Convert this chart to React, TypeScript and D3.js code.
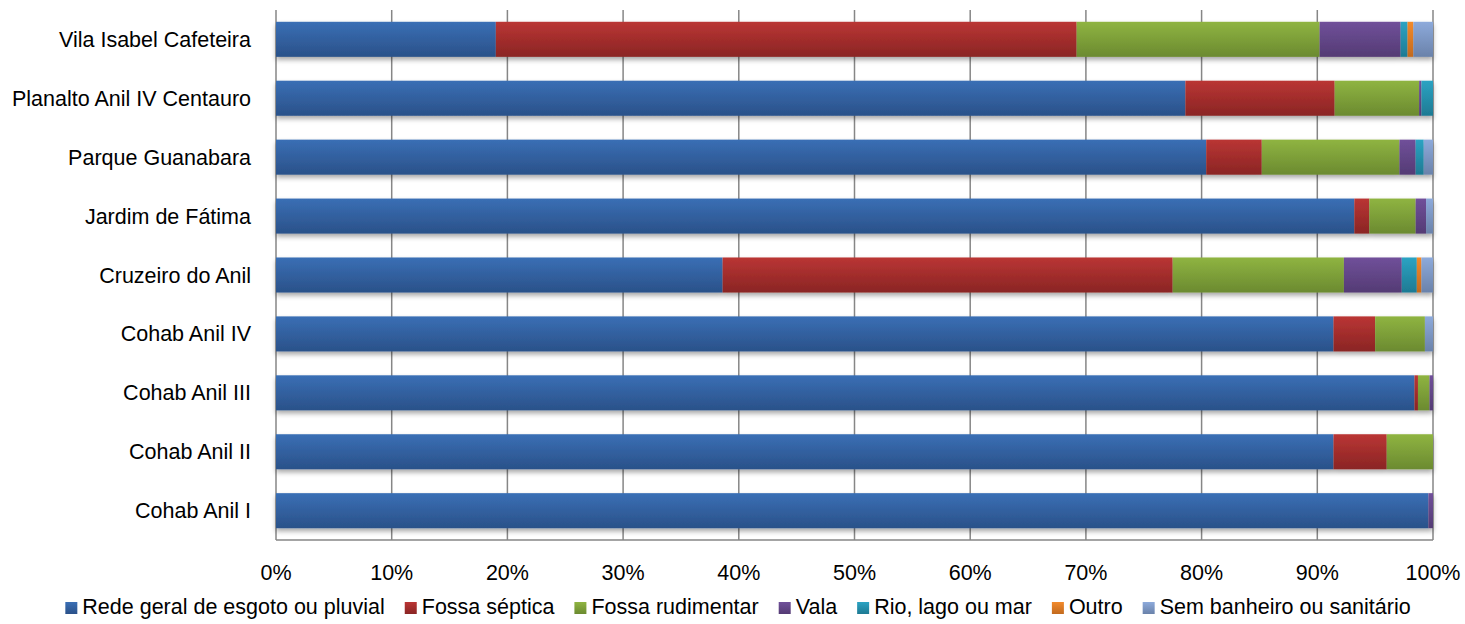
import React, { useEffect, useRef } from "react";
import * as d3 from "d3";

const categories = [
  "Vila Isabel Cafeteira",
  "Planalto Anil IV Centauro",
  "Parque Guanabara",
  "Jardim de Fátima",
  "Cruzeiro do Anil",
  "Cohab Anil IV",
  "Cohab Anil III",
  "Cohab Anil II",
  "Cohab Anil I",
];

const seriesNames = [
  "Rede geral de esgoto ou pluvial",
  "Fossa séptica",
  "Fossa rudimentar",
  "Vala",
  "Rio, lago ou mar",
  "Outro",
  "Sem banheiro ou sanitário",
];

const redeGeral = [19.0, 78.6, 80.4, 93.2, 38.6, 91.4, 98.4, 91.4, 99.6];
const fossaSeptica = [50.2, 12.9, 4.8, 1.3, 38.9, 3.6, 0.3, 4.6, 0];
const fossaRudimentar = [21.0, 7.3, 11.9, 4.0, 14.8, 4.3, 1.0, 4.0, 0];
const vala = [7.0, 0.2, 1.4, 0.9, 5.0, 0, 0.3, 0, 0.4];
const rioLagoMar = [0.6, 1.0, 0.7, 0, 1.3, 0, 0, 0, 0];
const outro = [0.5, 0, 0, 0, 0.4, 0, 0, 0, 0];
const semBanheiro = [1.7, 0, 0.8, 0.6, 1.0, 0.7, 0, 0, 0];

const tickLabels = ["0%", "10%", "20%", "30%", "40%", "50%", "60%", "70%", "80%", "90%", "100%"];

const colorTop = ["#3A6FB5", "#BA3534", "#8FB441", "#70509A", "#2CA3C3", "#F28A2C", "#8DAADB"];
const colorBottom = ["#2A5189", "#8A2524", "#6B8A30", "#543B74", "#1E7A93", "#C26A1E", "#6A82AA"];

const W = 1465;
const H = 624;
const FONT = "'Liberation Sans', Arial, sans-serif";
const FS = 21.5;

export default function App() {
  const ref = useRef<SVGSVGElement | null>(null);

  useEffect(() => {
    const svg = d3.select(ref.current);
    svg.selectAll("*").remove();

    const margin = { left: 276, right: 32, top: 10, bottom: 84 };
    const x = d3.scaleLinear().domain([0, 100]).range([margin.left, W - margin.right]);
    const y = d3
      .scaleBand<string>()
      .domain(categories)
      .range([margin.top, H - margin.bottom])
      .paddingInner(0.405)
      .paddingOuter(0.2);

    const seriesValues = [redeGeral, fossaSeptica, fossaRudimentar, vala, rioLagoMar, outro, semBanheiro];
    const table = categories.map((c, i) => {
      const row: any = { cat: c };
      seriesNames.forEach((s, j) => (row[s] = seriesValues[j][i]));
      return row;
    });
    const stacked = d3.stack<any>().keys(seriesNames)(table);

    const defs = svg.append("defs");
    seriesNames.forEach((_, j) => {
      const g = defs
        .append("linearGradient")
        .attr("id", "grad" + j)
        .attr("x1", 0)
        .attr("y1", 0)
        .attr("x2", 0)
        .attr("y2", 1);
      g.append("stop").attr("offset", "0%").attr("stop-color", colorTop[j]);
      g.append("stop").attr("offset", "100%").attr("stop-color", colorBottom[j]);
    });
    const f = defs
      .append("filter")
      .attr("id", "shadow")
      .attr("x", "-5%")
      .attr("y", "-20%")
      .attr("width", "110%")
      .attr("height", "160%");
    f.append("feDropShadow")
      .attr("dx", 0)
      .attr("dy", 3)
      .attr("stdDeviation", 2.5)
      .attr("flood-color", "#000")
      .attr("flood-opacity", 0.35);

    // gridlines
    const ticks = d3.range(0, 101, 10);
    const yTop = margin.top;
    const yBot = H - margin.bottom;
    svg
      .append("g")
      .selectAll("line")
      .data(ticks)
      .join("line")
      .attr("x1", (d) => x(d))
      .attr("x2", (d) => x(d))
      .attr("y1", yTop)
      .attr("y2", yBot)
      .attr("stroke", "#868686")
      .attr("stroke-width", 1.5);
    svg
      .append("line")
      .attr("x1", x(0))
      .attr("x2", x(100))
      .attr("y1", yBot)
      .attr("y2", yBot)
      .attr("stroke", "#868686")
      .attr("stroke-width", 1.5);

    // bars
    const barsG = svg.append("g");
    categories.forEach((c, i) => {
      const rowG = barsG.append("g").attr("filter", "url(#shadow)");
      stacked.forEach((layer, j) => {
        const d = layer[i];
        const w = x(d[1]) - x(d[0]);
        if (w <= 0) return;
        rowG
          .append("rect")
          .attr("x", x(d[0]))
          .attr("y", y(c)!)
          .attr("width", w)
          .attr("height", y.bandwidth())
          .attr("fill", `url(#grad${j})`);
      });
    });

    // y labels
    svg
      .append("g")
      .selectAll("text")
      .data(categories)
      .join("text")
      .attr("x", x(0) - 25)
      .attr("y", (d) => y(d)! + y.bandwidth() / 2)
      .attr("dy", "0.35em")
      .attr("text-anchor", "end")
      .attr("font-family", FONT)
      .attr("font-size", FS)
      .attr("fill", "#000")
      .text((d) => d);

    // x labels
    svg
      .append("g")
      .selectAll("text")
      .data(ticks)
      .join("text")
      .attr("x", (d) => x(d))
      .attr("y", 572)
      .attr("dy", "0.35em")
      .attr("text-anchor", "middle")
      .attr("font-family", FONT)
      .attr("font-size", FS)
      .attr("fill", "#000")
      .text((d, i) => tickLabels[i]);

    // legend
    const legend = svg.append("g");
    let cx = 0;
    const items: any[] = [];
    const gap = 20;
    seriesNames.forEach((s, j) => {
      const g = legend.append("g");
      g.append("rect")
        .attr("x", 0)
        .attr("y", -12)
        .attr("width", 12)
        .attr("height", 12)
        .attr("fill", `url(#grad${j})`);
      const t = g
        .append("text")
        .attr("x", 17)
        .attr("y", 0)
        .attr("font-family", FONT)
        .attr("font-size", FS)
        .attr("fill", "#000")
        .text(s);
      const tw = (t.node() as SVGTextElement).getComputedTextLength();
      items.push({ g, offset: cx });
      cx += 17 + tw + gap;
    });
    const totalW = cx - gap;
    const startX = 738 - totalW / 2;
    items.forEach((it) => it.g.attr("transform", `translate(${startX + it.offset},614)`));
  }, []);

  return (
    <svg ref={ref} width={W} height={H} style={{ display: "block", position: "absolute", left: 0, top: 0, background: "#fff" }} />
  );
}
